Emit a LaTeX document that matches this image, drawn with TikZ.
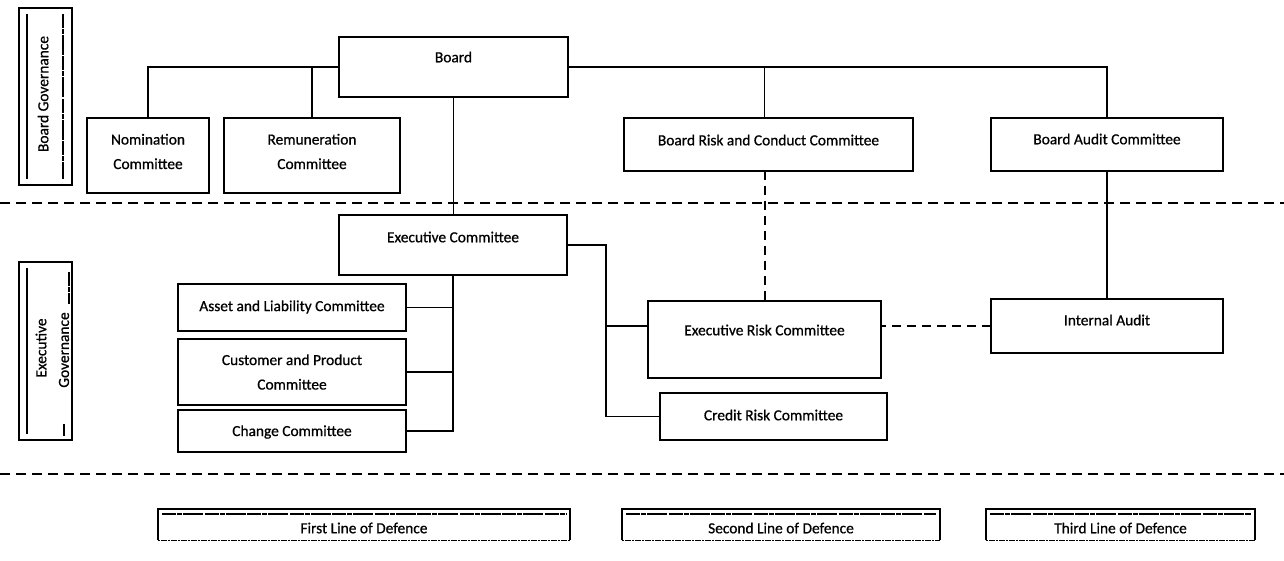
\documentclass[tikz,border=0pt]{standalone}
\usepackage{fontspec}
\setmainfont{Carlito}[FakeBold=0.7]
\begin{document}
\begin{tikzpicture}[x=1pt,y=-1pt,
  orgbox/.style={draw=black, line width=1.8pt, inner sep=0pt, outer sep=0pt, fill=white},
  txt/.style={inner sep=0pt, align=center, font=\fontsize{15.4}{24.5}\selectfont},
  conn/.style={line width=1.4pt},
  sep/.style={line width=2.2pt, dash pattern=on 10pt off 6pt},
  dconn/.style={line width=2pt, dash pattern=on 9pt off 6pt},
  rough/.style={line width=1.6pt, dash pattern=on 14pt off 1pt on 5pt off 1pt on 20pt off 1.5pt},
  dotline/.style={line width=0.9pt, dash pattern=on 2pt off 1pt on 6pt off 1pt}
]
\useasboundingbox[fill=white] (0,0) rectangle (1284,561);

\newcommand\mybox[7]{%
  \pgfmathsetmacro\bw{#4-#2}\pgfmathsetmacro\bh{#5-#3}%
  \pgfmathsetmacro\bx{(#2+#4)/2}\pgfmathsetmacro\by{(#3+#5)/2}%
  \node[orgbox, minimum width=\bw pt, minimum height=\bh pt] (#1) at (\bx,\by) {};%
  \node[txt] (#1-t) at (\bx,#6) {#7};}

% separators
\draw[sep] (0,203) -- (1284,203);
\draw[sep] (0,474) -- (1284,474);

% side labels
\draw[line width=1.4pt] (19,8) rectangle (72,185);
\draw[line width=2.6pt] (27,14) -- (27,179);
\draw[rough] (63,14) -- (63,179);
\node[txt, rotate=90] (lbg) at (43,94) {Board Governance};

\draw[line width=1.4pt] (19,262) rectangle (72,440);
\draw[line width=2.6pt] (27,268) -- (27,434);
\draw[rough] (69,272) -- (69,304);
\draw[rough] (64,424) -- (64,436);
\node[txt, rotate=90] (lbe1) at (41,348) {Executive};
\node[txt, rotate=90] (lbe2) at (64,350) {Governance};

% boxes
\mybox{board}{339}{37}{568}{97}{57}{Board}
\mybox{nom}{87}{118}{209}{193}{151.5}{Nomination\\Committee}
\mybox{rem}{224}{118}{400}{193}{151.5}{Remuneration\\Committee}
\mybox{brc}{624}{118}{913}{171}{140}{Board Risk and Conduct Committee}
\mybox{bac}{991}{118}{1223}{171}{139}{Board Audit Committee}
\mybox{exec}{339}{215}{567}{275}{237}{Executive Committee}
\mybox{alc}{178}{284}{406}{331}{307}{Asset and Liability Committee}
\mybox{cpc}{178}{339}{406}{405}{372}{Customer and Product\\Committee}
\mybox{chc}{178}{410}{406}{452}{432}{Change Committee}
\mybox{erc}{648}{301}{881}{378}{330}{Executive Risk Committee}
\mybox{crc}{660}{393}{887}{440}{415}{Credit Risk Committee}
\mybox{ia}{991}{299}{1223}{353}{320}{Internal Audit}

% connectors board level
\draw[conn] (board.west) -| (nom.north);
\draw[conn] (rem.north) -- (rem.north |- board.west);
\draw[conn] (board.east) -| (bac.north);
\draw[conn] (erc.north |- brc.north) -- (erc.north |- board.east);
\draw[conn] (board.south) -- (board.south |- exec.north);
\draw[conn] (bac.south) -- (bac.south |- ia.north);
\draw[dconn] (erc.north |- brc.south) -- (erc.north);

% executive level
\draw[conn] (chc.east) -| (exec.south);
\draw[conn] (alc.east) -- (alc.east -| exec.south);
\draw[conn] (cpc.east) -- (cpc.east -| exec.south);
\coordinate (ebus) at (606,245);
\coordinate (ertap) at (648,326);
\draw[conn] (exec.east |- ebus) -- (ebus) |- (crc.west);
\draw[conn] (ertap) -- (ertap -| ebus);
\draw[dconn] (ia.west) -- (ia.west -| erc.east);

% lines of defence
\foreach \nm/\xa/\xb/\lab in {fld/158/570/First Line of Defence, sld/622/940/Second Line of Defence, tld/986/1255/Third Line of Defence}{
  \draw[line width=1.6pt] (\xa,540) -- (\xa,509) -- (\xb,509) -- (\xb,540);
  \draw[dotline] (\xa,540) -- (\xb,540);
  \draw[rough] (\xa+4,514) -- (\xb-4,514);
  \pgfmathsetmacro\cx{(\xa+\xb)/2}
  \node[txt] (\nm) at (\cx,528) {\lab};
}
\end{tikzpicture}
\end{document}
